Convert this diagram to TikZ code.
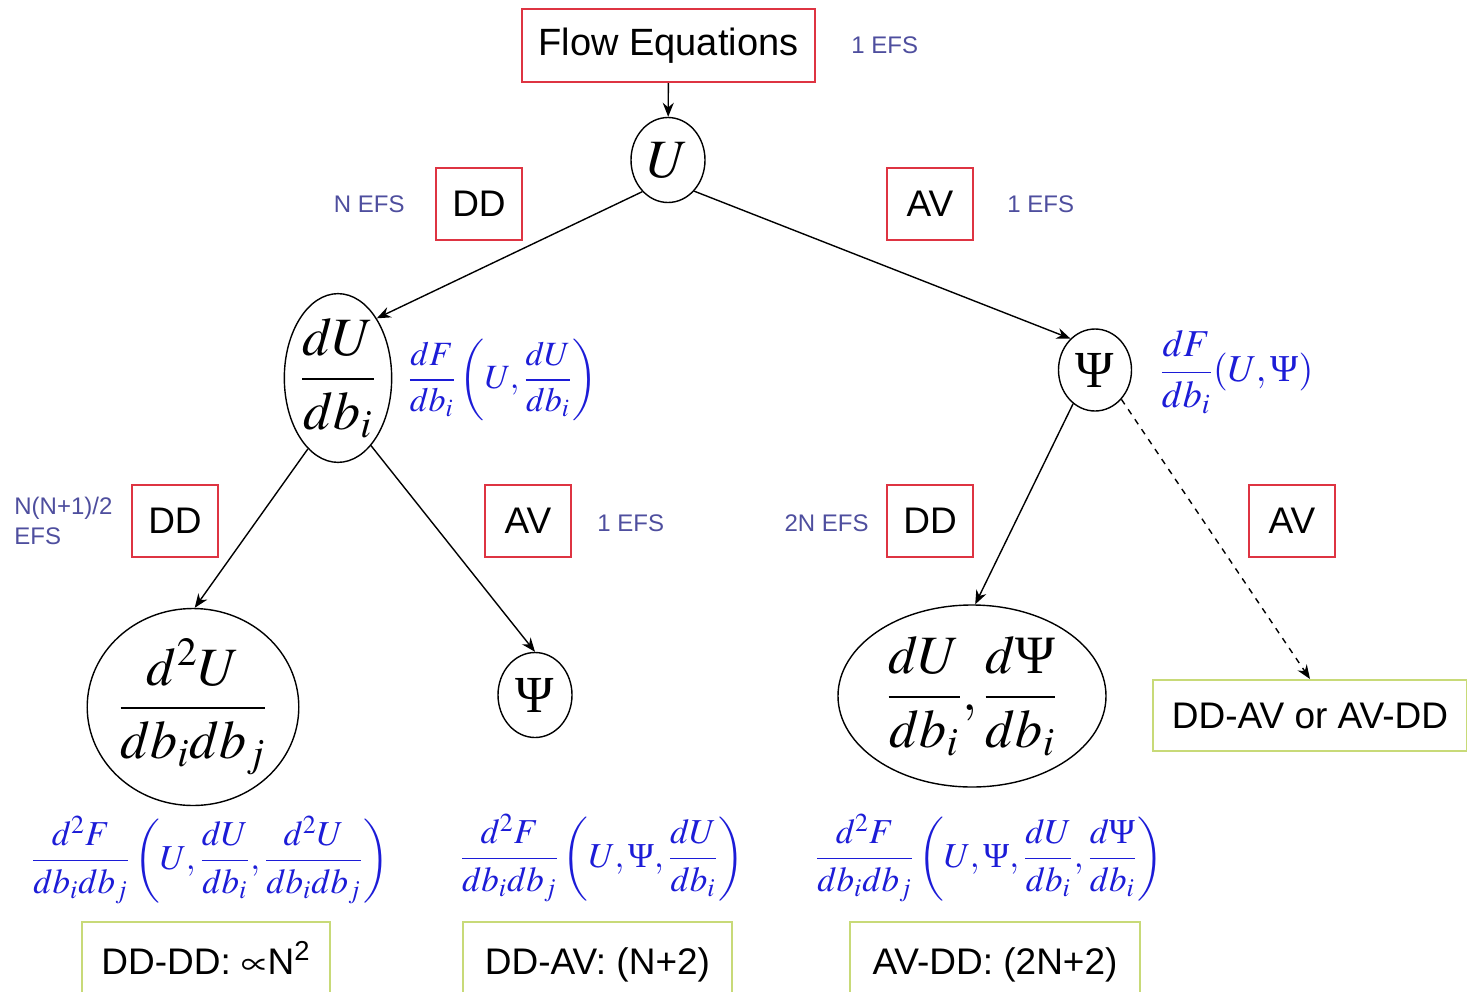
\RequirePackage{fix-cm}
\documentclass[tikz,border=0pt]{standalone}
\usepackage{amsmath}
\usepackage{mathptmx}
\usepackage[no-math]{fontspec}
\setmainfont{Liberation Sans}
\newfontfamily\psifont{Liberation Serif}
\newcommand{\PsiSym}{\mbox{\psifont Ψ}}
\usetikzlibrary{shapes.geometric,arrows.meta}

\definecolor{boxred}{RGB}{222,52,66}
\definecolor{boxgreen}{RGB}{200,218,120}
\definecolor{efsblue}{RGB}{78,78,158}
\definecolor{mathblue}{RGB}{28,28,215}

\tikzset{
  redbox/.style={draw=boxred, line width=1pt, inner sep=0pt,
    minimum width=43pt, minimum height=36pt,
    font=\fontsize{18.5}{22}\selectfont},
  greenbox/.style={draw=boxgreen, line width=1pt, inner sep=0pt,
    text height=15pt, text depth=2pt,
    font=\fontsize{18.5}{22}\selectfont},
  efs/.style={text=efsblue, inner sep=0pt, font=\fontsize{12}{15}\selectfont},
  bubble/.style={draw, ellipse, inner sep=0pt, line width=0.7pt},
  bigmath/.style={font=\fontsize{27}{31}\selectfont},
  psimath/.style={font=\fontsize{26}{30}\selectfont},
  blueformula/.style={text=mathblue, inner sep=0pt},
  link/.style={-{Stealth[length=7pt,width=5.5pt]}, line width=0.7pt},
  dashlink/.style={link, dashed}
}

\begin{document}
\begin{tikzpicture}[x=0.5pt, y=-0.5pt]
\useasboundingbox (0,0) rectangle (1467,991);

% top level
\node[redbox, minimum width=146.5pt, minimum height=36.5pt, font=\fontsize{19}{22}\selectfont] (flow) at (668.5,45.5) {Flow Equations};
\node[efs, anchor=west] (efsTop) at (851,45) {1 EFS};
\node[bubble, minimum width=37pt, minimum height=42.5pt, font=\fontsize{27}{31}\selectfont] (U) at (668,160) {$U$};

% first split
\node[redbox] (dd1) at (479,204) {DD};
\node[efs, anchor=east] (efsDD1) at (405,204) {N EFS};
\node[redbox] (av1) at (930,204) {AV};
\node[efs, anchor=west] (efsAV1) at (1007,204) {1 EFS};

\node[bubble, bigmath, minimum width=48pt, minimum height=78pt] (dU) at (338,378) {$\displaystyle\frac{dU}{db_i}$};
\node[bubble, psimath, minimum width=36.5pt, minimum height=41pt] (psiR) at (1095,370) {\PsiSym};

\node[blueformula, anchor=west, font=\fontsize{17}{20}\selectfont] (fDU) at (407,380)
  {$\displaystyle\frac{dF}{db_i}\left(U,\frac{dU}{db_i}\right)$};
\node[blueformula, anchor=west, font=\fontsize{19}{22}\selectfont] (fPsi) at (1159,372)
  {$\displaystyle\frac{dF}{db_i}(U,\PsiSym)$};

% second split
\node[redbox] (dd2) at (175,521) {DD};
\node[efs, anchor=west, align=left] (efsDD2) at (14,521) {N(N+1)/2\\EFS};
\node[redbox] (av2) at (528,521) {AV};
\node[efs, anchor=west] (efsAV2) at (597,523) {1 EFS};
\node[redbox] (dd3) at (930,521) {DD};
\node[efs, anchor=east] (efsDD3) at (869,523) {2N EFS};
\node[redbox] (av3) at (1292,521) {AV};

% leaves
\node[bubble, bigmath, minimum width=97.5pt, minimum height=98.5pt] (d2U) at (193,707)
  {$\displaystyle\frac{d^2U}{db_i db_j}$};
\node[bubble, psimath, minimum width=37pt, minimum height=42.5pt] (psiM) at (535,695) {\PsiSym};
\node[bubble, bigmath, minimum width=134pt, minimum height=91pt] (dUdPsi) at (972,696)
  {$\displaystyle\frac{dU}{db_i},\frac{d\PsiSym}{db_i}$};
\node[greenbox, minimum width=157pt, minimum height=35.5pt] (mixed) at (1310,715.5) {DD-AV or AV-DD};

% second-order formulas
\node[blueformula, font=\fontsize{17.5}{21}\selectfont] (fDD) at (210,860)
  {$\displaystyle\frac{d^2F}{db_i db_j}\left(U,\frac{dU}{db_i},\frac{d^2U}{db_i db_j}\right)$};
\node[blueformula, font=\fontsize{17.5}{21}\selectfont] (fDA) at (602,858)
  {$\displaystyle\frac{d^2F}{db_i db_j}\left(U,\PsiSym,\frac{dU}{db_i}\right)$};
\node[blueformula, font=\fontsize{17.5}{21}\selectfont] (fAD) at (989,858)
  {$\displaystyle\frac{d^2F}{db_i db_j}\left(U,\PsiSym,\frac{dU}{db_i},\frac{d\PsiSym}{db_i}\right)$};

% cost boxes
\node[greenbox, minimum width=124pt, minimum height=39pt] (costDD) at (206,961) {DD-DD: $\propto$N\textsuperscript{2}};
\node[greenbox, minimum width=134.5pt, minimum height=39pt] (costDA) at (597.5,961) {DD-AV: (N+2)};
\node[greenbox, minimum width=145pt, minimum height=39pt] (costAD) at (995,961) {AV-DD: (2N+2)};

% connectors
\draw[link] (flow) -- (U);
\draw[link] (U.231) -- (dU.57);
\draw[link] (U.310) -- (psiR.128);
\draw[link] (dU.247) -- (d2U.89);
\draw[link] (dU.296) -- (psiM.north);
\draw[link] (psiR.237) -- (dUdPsi.88);
\draw[dashlink] (psiR.312) -- (mixed.north);
\end{tikzpicture}
\end{document}
